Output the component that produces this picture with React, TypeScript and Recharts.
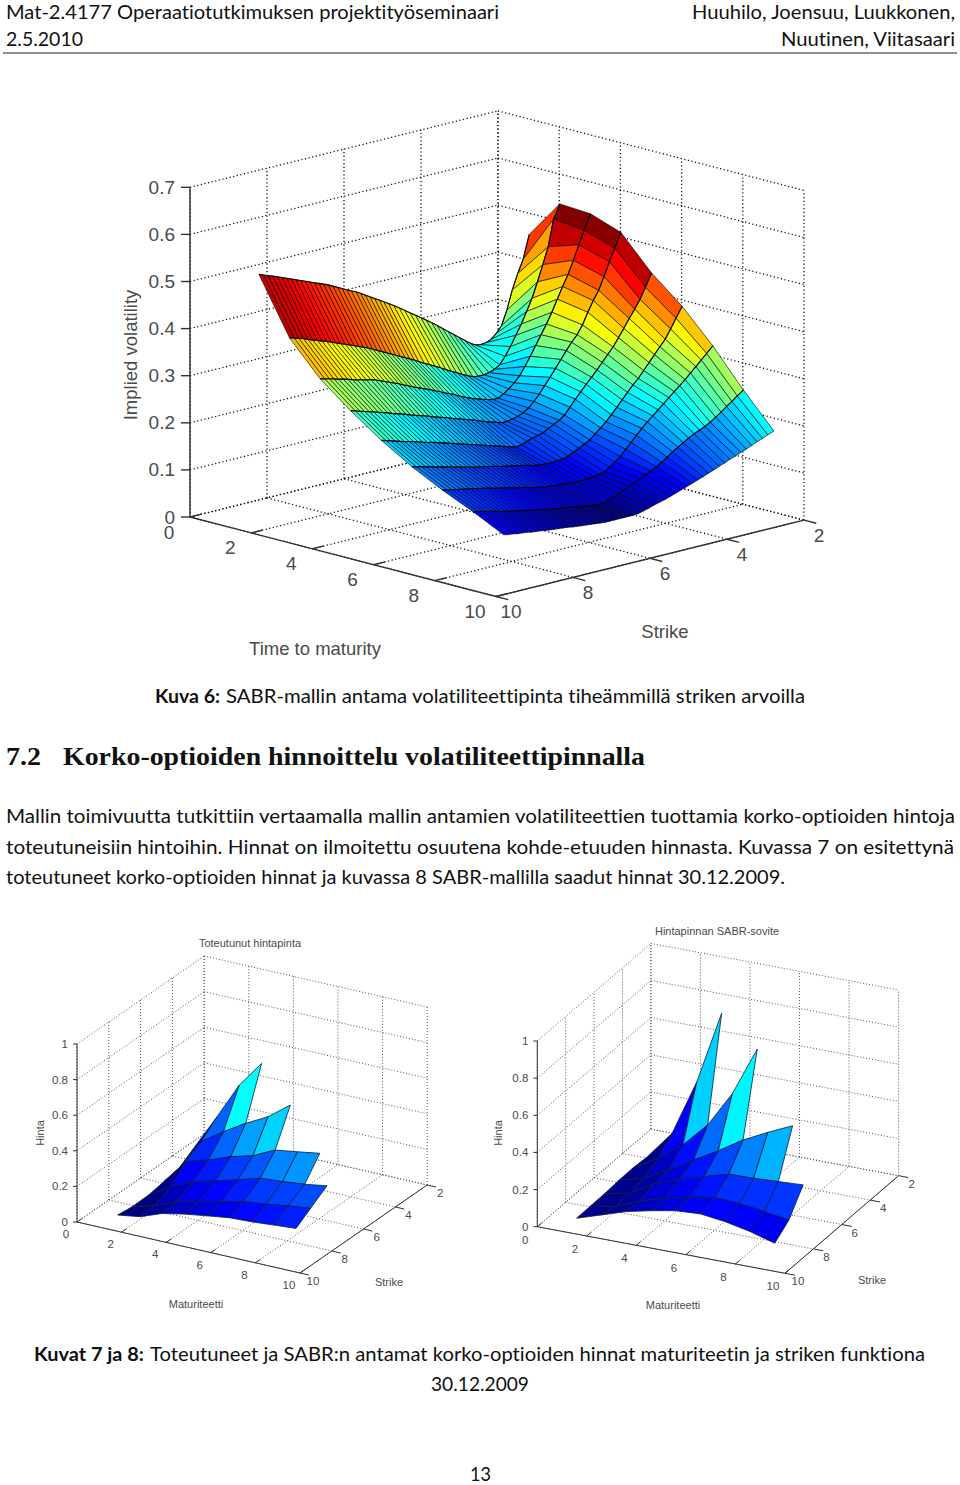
import React from 'react';
import { ScatterChart, Scatter, XAxis, YAxis } from 'recharts';

// --- Kuva 6: implied volatility surface, one array per maturity
const volMaturities = [2, 3, 4, 5, 6, 7, 8, 9, 10];
const volStrikes = [9.8, 9.68, 9.56, 9.44, 9.32, 9.2, 9.08, 8.96, 8.84, 8.72, 8.6, 8.48, 8.36, 8.24, 8.12, 8.0, 7.88, 7.76, 7.64, 7.52, 7.4, 7.28, 7.16, 7.04, 6.92, 6.8, 6.68, 6.56, 6.44, 6.3, 6.16, 6.02, 5.88, 5.74, 5.6, 5.46, 5.32, 5.18, 5.04, 4.9, 4.76, 4.62, 4.48, 4.34, 4.2, 4.06, 3.92, 3.78, 3.64, 3.5, 3.36, 3.22, 3.08, 2.94, 2.78];
const volT2 = [.545, .541, .537, .534, .530, .526, .522, .518, .514, .510, .506, .502, .498, .494, .490, .486, .481, .476, .471, .466, .461, .457, .451, .445, .439, .433, .427, .421, .415, .408, .400, .392, .384, .376, .368, .360, .352, .343, .334, .325, .316, .307, .298, .289, .282, .279, .280, .284, .294, .308, .338, .378, .410, .437, .487];
const volT3 = [.427, .424, .421, .418, .414, .410, .407, .403, .400, .396, .392, .388, .384, .380, .376, .372, .368, .364, .359, .354, .349, .344, .339, .334, .329, .324, .319, .314, .308, .302, .296, .290, .284, .277, .271, .265, .259, .253, .248, .246, .246, .248, .252, .259, .274, .292, .313, .334, .358, .383, .415, .449, .484, .540, .569];
const volT4 = [.357, .354, .352, .349, .346, .344, .341, .338, .335, .333, .330, .328, .325, .321, .317, .313, .309, .305, .300, .296, .291, .287, .283, .279, .275, .270, .266, .261, .257, .252, .246, .241, .236, .232, .228, .225, .222, .222, .228, .236, .246, .258, .275, .294, .314, .334, .354, .376, .401, .425, .448, .475, .505, .533, .565];
const volT5 = [.306, .303, .300, .297, .294, .291, .288, .285, .282, .278, .275, .272, .269, .265, .262, .259, .256, .253, .249, .246, .243, .240, .236, .233, .230, .226, .223, .220, .216, .212, .208, .205, .201, .201, .203, .206, .211, .218, .229, .242, .257, .272, .288, .304, .320, .335, .348, .366, .390, .412, .431, .457, .486, .512, .542];
const volT6 = [.260, .257, .254, .251, .248, .245, .243, .240, .237, .234, .231, .229, .226, .223, .220, .217, .214, .211, .208, .205, .202, .199, .196, .193, .190, .187, .184, .181, .178, .175, .177, .181, .185, .188, .191, .197, .203, .209, .217, .231, .245, .258, .271, .283, .296, .309, .323, .336, .353, .370, .388, .405, .423, .446, .473];
const volT7 = [.221, .218, .216, .213, .211, .208, .206, .203, .201, .198, .196, .193, .191, .188, .186, .184, .182, .180, .178, .175, .173, .171, .169, .167, .165, .163, .160, .158, .157, .156, .156, .157, .158, .161, .167, .172, .178, .184, .194, .204, .214, .226, .239, .252, .265, .278, .289, .303, .317, .331, .345, .358, .377, .397, .419];
const volT8 = [.188, .186, .184, .182, .180, .178, .176, .174, .172, .170, .168, .165, .163, .161, .159, .156, .154, .152, .150, .147, .145, .143, .141, .140, .139, .138, .137, .136, .135, .135, .135, .136, .137, .139, .142, .149, .157, .166, .178, .190, .202, .214, .225, .235, .245, .255, .265, .275, .285, .295, .306, .317, .328, .339, .352];
const volT9 = [.159, .157, .155, .152, .150, .148, .145, .143, .141, .139, .137, .135, .133, .131, .129, .127, .125, .123, .121, .120, .118, .117, .115, .114, .112, .111, .109, .108, .108, .112, .116, .120, .125, .130, .135, .141, .147, .152, .158, .165, .173, .181, .188, .195, .202, .208, .213, .218, .224, .232, .240, .249, .257, .266, .275];
const volT10 = [.127, .125, .124, .122, .121, .120, .118, .117, .116, .114, .113, .112, .111, .110, .109, .107, .106, .105, .104, .103, .102, .101, .100, .100, .100, .100, .100, .100, .100, .101, .104, .107, .111, .114, .117, .121, .125, .129, .133, .137, .141, .145, .150, .154, .159, .163, .168, .172, .177, .181, .186, .191, .195, .200, .205];
const volRows = [volT2, volT3, volT4, volT5, volT6, volT7, volT8, volT9, volT10];

// --- Kuvat 7 ja 8: price surfaces, one array per strike, maturities start at 2
const priceMaturities = [2, 3, 4, 5, 6, 7, 8, 9, 10];
const realizedStrikes = [10.25, 9.34, 8.3, 7.35, 6.4, 5.4];
const realizedK0 = [.112, .131, .178, .203, .222, .240, .246, .256, .266];
const realizedK1 = [.102, .137, .188, .216, .245, .274, .289, .307, .322];
const realizedK2 = [.104, .179, .236, .270, .303, .341, .351, .365, .385];
const realizedK3 = [.120, .261, .299, .346, .380, .441, .460, .480];
const realizedK4 = [.136, .315, .399, .475, .541, .635];
const realizedK5 = [.196, .393, .600, .750];

const fittedStrikes = [10.72, 9.72, 8.72, 7.72, 6.72, 5.74];
const fittedK0 = [.143, .186, .229, .259, .284, .292, .275, .247, .209];
const fittedK1 = [.145, .165, .222, .260, .294, .314, .308, .289, .269];
const fittedK2 = [.146, .171, .250, .293, .336, .374, .377, .385, .392];
const fittedK3 = [.152, .186, .256, .335, .409, .493, .559, .620];
const fittedK4 = [.153, .228, .325, .458, .653, .917];
const fittedK5 = [.147, .298, .601, .995];

// --- axis ticks
const volTicks = [0, .1, .2, .3, .4, .5, .6, .7];
const volTickLabels = ['0', '0.1', '0.2', '0.3', '0.4', '0.5', '0.6', '0.7'];
const priceTicks = [0, .2, .4, .6, .8, 1];
const priceTickLabels = ['0', '0.2', '0.4', '0.6', '0.8', '1'];
const maturityTicks = [0, 2, 4, 6, 8, 10];
const strikeTicks = [2, 4, 6, 8, 10];

const jet = (i: number) => {
  const c = (v: number) => Math.round(255 * Math.max(0, Math.min(1, v)));
  return `rgb(${c(Math.min(4 * i - 1.5, -4 * i + 4.5))},${c(Math.min(4 * i - 0.5, -4 * i + 3.5))},${c(Math.min(4 * i + 0.5, -4 * i + 2.5))})`;
};

// oblique projection of (maturity, strike, value) to page pixels
const project = (v: any, t: number, k: number, z: number) => ({
  px: v.x0 + v.tx * t + v.kx * (10 - k),
  py: v.y0 + v.ty * t - v.ky * (10 - k) - v.zy * z,
});

const seg = (a: any, b: any) => ({ ...a, end: b });

function buildFrame(v: any, zTicks: number[]) {
  const dots: any[] = [];
  const solid: any[] = [];
  const zTop = zTicks[zTicks.length - 1];
  zTicks.forEach((z) => {
    dots.push(seg(project(v, 0, 10, z), project(v, 0, 2, z)));
    dots.push(seg(project(v, 0, 2, z), project(v, 10, 2, z)));
    const p = project(v, 0, 10, z);
    solid.push(seg(p, { px: p.px - v.tick, py: p.py }));
  });
  strikeTicks.forEach((k) => {
    dots.push(seg(project(v, 0, k, 0), project(v, 0, k, zTop)));
    dots.push(seg(project(v, 0, k, 0), project(v, 10, k, 0)));
    solid.push(seg(project(v, 10, k, 0), project(v, 10.4, k, 0)));
  });
  maturityTicks.forEach((t) => {
    dots.push(seg(project(v, t, 2, 0), project(v, t, 2, zTop)));
    dots.push(seg(project(v, t, 10, 0), project(v, t, 2, 0)));
    solid.push(seg(project(v, t, 10, 0), project(v, t, 9.7, 0)));
  });
  solid.push(seg(project(v, 0, 10, 0), project(v, 0, 10, zTop)));
  solid.push(seg(project(v, 0, 10, 0), project(v, 10, 10, 0)));
  solid.push(seg(project(v, 10, 10, 0), project(v, 10, 2, 0)));
  return { dots, solid };
}

function buildTickLabels(v: any, zTicks: number[], zLabels: string[]) {
  const out: any[] = [];
  zTicks.forEach((z, i) => {
    const p = project(v, 0, 10, z);
    out.push({ px: p.px - v.zGap, py: p.py, text: zLabels[i], anchor: 'end', size: v.font });
  });
  maturityTicks.forEach((t) => {
    const p = project(v, t, 10, 0);
    out.push({ px: p.px + v.tOff[0], py: p.py + v.tOff[1], text: String(t), anchor: 'middle', size: v.font });
  });
  strikeTicks.forEach((k) => {
    const p = project(v, 10, k, 0);
    out.push({ px: p.px + v.kOff[0], py: p.py + v.kOff[1], text: String(k), anchor: 'middle', size: v.font });
  });
  return out;
}

// strike lines dense, maturity rows are the heavy ones; far cells first
function buildVolCells(v: any) {
  const cells: any[] = [];
  for (let i = 0; i < volRows.length - 1; i++) {
    for (let j = volStrikes.length - 2; j >= 0; j--) {
      const a = project(v, volMaturities[i], volStrikes[j], volRows[i][j]);
      const b = project(v, volMaturities[i], volStrikes[j + 1], volRows[i][j + 1]);
      const c = project(v, volMaturities[i + 1], volStrikes[j + 1], volRows[i + 1][j + 1]);
      const d = project(v, volMaturities[i + 1], volStrikes[j], volRows[i + 1][j]);
      cells.push({ ...a, corners: [a, b, c, d], fill: jet((volRows[i][j + 1] - 0.1) / 0.47), heavy: true });
    }
  }
  return cells;
}

function buildPriceCells(v: any, strikes: number[], rows: number[][], cMin: number, cSpan: number) {
  const cells: any[] = [];
  for (let r = rows.length - 2; r >= 0; r--) {
    const n = Math.min(rows[r].length, rows[r + 1].length);
    for (let j = 0; j < n - 1; j++) {
      const a = project(v, priceMaturities[j], strikes[r], rows[r][j]);
      const b = project(v, priceMaturities[j], strikes[r + 1], rows[r + 1][j]);
      const c = project(v, priceMaturities[j + 1], strikes[r + 1], rows[r + 1][j + 1]);
      const d = project(v, priceMaturities[j + 1], strikes[r], rows[r][j + 1]);
      cells.push({ ...a, corners: [a, b, c, d], fill: jet((rows[r + 1][j] - cMin) / cSpan), heavy: false });
    }
  }
  return cells;
}

const CellShape = ({ cx, cy, payload }: any) => {
  const pts = payload.corners.map((c: any) => ({ x: cx + c.px - payload.px, y: cy + c.py - payload.py }));
  return (
    <g>
      <polygon
        points={pts.map((p: any) => `${p.x},${p.y}`).join(' ')}
        fill={payload.fill}
        stroke={payload.heavy ? 'rgba(0,0,0,0.8)' : '#0b1f3a'}
        strokeWidth={payload.heavy ? 0.75 : 0.8}
        strokeLinejoin="round"
      />
      {payload.heavy && <line x1={pts[0].x} y1={pts[0].y} x2={pts[1].x} y2={pts[1].y} stroke="#0a0a0a" strokeWidth={1.1} />}
    </g>
  );
};

const lineShape = (stroke: string, width: number, dash?: string) => ({ cx, cy, payload }: any) => (
  <line
    x1={cx}
    y1={cy}
    x2={cx + payload.end.px - payload.px}
    y2={cy + payload.end.py - payload.py}
    stroke={stroke}
    strokeWidth={width}
    strokeDasharray={dash}
  />
);

const LabelShape = ({ cx, cy, payload }: any) => (
  <text
    x={cx}
    y={cy}
    fontFamily="'Liberation Sans', Arial, sans-serif"
    fontSize={payload.size}
    fill="#4a4a4a"
    textAnchor={payload.anchor}
    dominantBaseline="central"
    transform={payload.rotate ? `rotate(${payload.rotate} ${cx} ${cy})` : undefined}
  >
    {payload.text}
  </text>
);

function Surface3D({ box, view, zTicks, zLabels, cells, titles, dotColor, dotDash, dotWidth }: any) {
  const { dots, solid } = buildFrame(view, zTicks);
  const labels = [...buildTickLabels(view, zTicks, zLabels), ...titles];
  return (
    <div style={{ position: 'absolute', left: box.left, top: box.top, width: box.w, height: box.h }}>
      <ScatterChart width={box.w} height={box.h} margin={{ top: 0, right: 0, bottom: 0, left: 0 }}>
        <XAxis type="number" dataKey="px" domain={[box.left, box.left + box.w]} hide />
        <YAxis type="number" dataKey="py" domain={[box.top, box.top + box.h]} reversed hide />
        <Scatter data={dots} shape={lineShape(dotColor, dotWidth, dotDash)} isAnimationActive={false} />
        <Scatter data={solid} shape={lineShape('#333', view.axisWidth)} isAnimationActive={false} />
        <Scatter data={cells} shape={CellShape} isAnimationActive={false} />
        <Scatter data={labels} shape={LabelShape} isAnimationActive={false} />
      </ScatterChart>
    </div>
  );
}

const volView = { x0: 190, y0: 517, tx: 30.6, ty: 7.95, kx: 38.5, ky: 9.55, zy: 471, tick: 9, zGap: 15, font: 19, tOff: [-21, 15], kOff: [15, 15], axisWidth: 1.4 };
const realizedView = { x0: 77, y0: 1222, tx: 22.3, ty: 5.1, kx: 15.9, ky: 11, zy: 178, tick: 4, zGap: 9, font: 11.5, tOff: [-11, 12], kOff: [13, 8], axisWidth: 1 };
const fittedView = { x0: 537.3, y0: 1226.7, tx: 24.77, ty: 4.66, kx: 14.2, ky: 12.2, zy: 185.7, tick: 4, zGap: 9, font: 11.5, tOff: [-12, 13], kOff: [13, 8], axisWidth: 1 };

const title = (px: number, py: number, text: string, size: number, rotate?: number) => ({ px, py, text, size, rotate, anchor: 'middle' });

const serifStack = "'Liberation Serif', serif";
const bodyStack = "Lato, 'Open Sans', sans-serif";

// page text, with the line widths of the scanned page
const PageText = () => {
  const line = (x: number, y: number, w: number, text: string, size = 19, weight = 400, family = bodyStack) => (
    <text
      x={x}
      y={y}
      textLength={w}
      lengthAdjust="spacingAndGlyphs"
      fontSize={size}
      fontWeight={weight}
      fontFamily={family}
      fill="#111"
      style={{ fontVariantLigatures: 'none' }}
    >
      {text}
    </text>
  );
  return (
    <svg width={960} height={1485} style={{ position: 'absolute', left: 0, top: 0 }}>
      {line(6, 19, 493, 'Mat-2.4177 Operaatiotutkimuksen projektityöseminaari')}
      {line(692, 19, 263, 'Huuhilo, Joensuu, Luukkonen,')}
      {line(6, 46, 77, '2.5.2010')}
      {line(781, 46, 174, 'Nuutinen, Viitasaari')}
      <line x1={3} y1={53} x2={957} y2={53} stroke="#222" strokeWidth={1.2} />
      {line(155, 703, 65, 'Kuva 6:', 19, 700)}
      {line(226, 703, 579, 'SABR-mallin antama volatiliteettipinta tiheämmillä striken arvoilla', 19)}
      {line(6, 765, 35, '7.2', 25, 700, serifStack)}
      {line(63, 765, 582, 'Korko-optioiden hinnoittelu volatiliteettipinnalla', 25, 700, serifStack)}
      {line(6, 823, 949, 'Mallin toimivuutta tutkittiin vertaamalla mallin antamien volatiliteettien tuottamia korko-optioiden hintoja', 19.5)}
      {line(6, 854, 948, 'toteutuneisiin hintoihin. Hinnat on ilmoitettu osuutena kohde-etuuden hinnasta. Kuvassa 7 on esitettynä', 19.5)}
      {line(6, 884, 779, 'toteutuneet korko-optioiden hinnat ja kuvassa 8 SABR-mallilla saadut hinnat 30.12.2009.', 19.5)}
      {line(34, 1361, 110, 'Kuvat 7 ja 8:', 19, 700)}
      {line(150, 1361, 775, 'Toteutuneet ja SABR:n antamat korko-optioiden hinnat maturiteetin ja striken funktiona', 19)}
      {line(431, 1391, 98, '30.12.2009', 19)}
      {line(470, 1480.5, 21, '13', 19)}
    </svg>
  );
};

export default function App() {
  const volCells = buildVolCells(volView);
  const realizedCells = buildPriceCells(realizedView, realizedStrikes, [realizedK0, realizedK1, realizedK2, realizedK3, realizedK4, realizedK5], 0.1, 1.33);
  const fittedCells = buildPriceCells(fittedView, fittedStrikes, [fittedK0, fittedK1, fittedK2, fittedK3, fittedK4, fittedK5], 0.13, 1.43);
  return (
    <div style={{ position: 'absolute', left: 0, top: 0, width: 960, height: 1485, background: '#fff', overflow: 'hidden' }}>
      <PageText />
      <Surface3D
        box={{ left: 100, top: 90, w: 760, h: 590 }}
        view={volView}
        zTicks={volTicks}
        zLabels={volTickLabels}
        cells={volCells}
        dotColor="#111"
        dotDash="1.2 2.5"
        dotWidth={1.3}
        titles={[
          title(130, 355, 'Implied volatility', 18.5, -90),
          title(315, 648, 'Time to maturity', 18.5),
          title(665, 631, 'Strike', 18.5),
        ]}
      />
      <Surface3D
        box={{ left: 20, top: 925, w: 440, h: 395 }}
        view={realizedView}
        zTicks={priceTicks}
        zLabels={priceTickLabels}
        cells={realizedCells}
        dotColor="#555"
        dotDash="1 2"
        dotWidth={1}
        titles={[
          title(40, 1133, 'Hinta', 11, -90),
          title(250, 943, 'Toteutunut hintapinta', 11),
          title(389, 1282, 'Strike', 11),
          title(196, 1304, 'Maturiteetti', 11),
        ]}
      />
      <Surface3D
        box={{ left: 480, top: 915, w: 450, h: 405 }}
        view={fittedView}
        zTicks={priceTicks}
        zLabels={priceTickLabels}
        cells={fittedCells}
        dotColor="#555"
        dotDash="1 2"
        dotWidth={1}
        titles={[
          title(498, 1133, 'Hinta', 11, -90),
          title(717, 931, 'Hintapinnan SABR-sovite', 11),
          title(872, 1280, 'Strike', 11),
          title(673, 1305, 'Maturiteetti', 11),
        ]}
      />
    </div>
  );
}
